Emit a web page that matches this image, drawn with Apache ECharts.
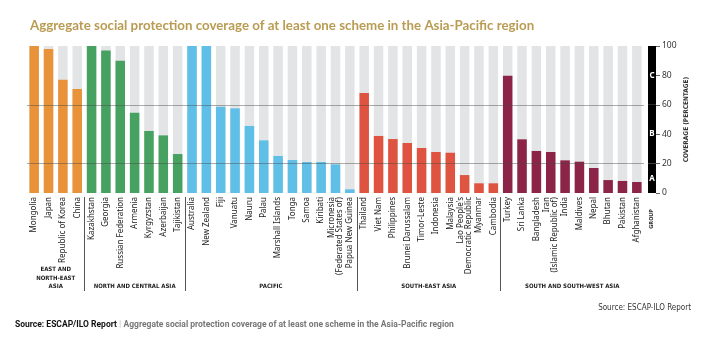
<!DOCTYPE html>
<html>
<head>
<meta charset="utf-8">
<script src="https://cdn.jsdelivr.net/npm/echarts@6/dist/echarts.min.js"></script>
<style>html,body{margin:0;padding:0;background:#fff}#c{width:704px;height:343px}</style>
</head>
<body>
<div id="c"></div>
<script>
// ---- data ----
const countries = [
  'Mongolia','Japan','Republic of Korea','China',
  'Kazakhstan','Georgia','Russian Federation','Armenia','Kyrgyzstan','Azerbaijan','Tajikistan',
  'Australia','New Zealand','Fiji','Vanuatu','Nauru','Palau','Marshall Islands','Tonga','Samoa','Kiribati','Micronesia\n(Federated States of)','Papua New Guinea',
  'Thailand','Viet Nam','Philippines','Brunei Darussalam','Timor-Leste','Indonesia','Malaysia',"Lao People's\nDemocratic Republic",'Myanmar','Cambodia',
  'Turkey','Sri Lanka','Bangladesh','Iran\n(Islamic Republic of)','India','Maldives','Nepal','Bhutan','Pakistan','Afghanistan'
];
const coverage = [
  100, 98, 77, 70.7,
  100, 97, 90, 54.6, 42.2, 39.2, 26.5,
  100, 100, 58.7, 57.6, 45.6, 35.8, 25.2, 22.4, 21.1, 21.1, 19.5, 2.5,
  68, 38.8, 36.7, 34, 30.6, 27.9, 27.4, 12.2, 6.6, 6.6,
  79.8, 36.5, 28.6, 27.9, 22.2, 21.3, 17, 8.8, 8.2, 7.5
];
const groupNames = ['EAST AND\nNORTH-EAST\nASIA', 'NORTH AND CENTRAL ASIA', 'PACIFIC', 'SOUTH-EAST ASIA', 'SOUTH AND SOUTH-WEST ASIA'];
const groupSizes = [4, 7, 12, 10, 10];
const groupColors = ['#E8923A', '#47A160', '#5FBFE6', '#DE5441', '#8C2447'];
const gradeNames = ['A', 'B', 'C'];
const gradeSpans = [20, 40, 40];
const bandLines = [20, 60];

// ---- derived ----
const groupOf = [];
groupSizes.forEach((n, g) => { for (let k = 0; k < n; k++) groupOf.push(g); });
const boundaries = [];
const centers = [];
let acc = 0;
groupSizes.forEach((n, g) => {
  centers.push(acc + (n - 1) / 2);
  acc += n;
  if (g < groupSizes.length - 1) boundaries.push(acc - 0.5);
});

const barData = coverage.map((v, i) => ({ value: v, itemStyle: { color: groupColors[groupOf[i]] } }));
const COND = '"DejaVu Sans Condensed", "DejaVu Sans", sans-serif';

const chart = echarts.init(document.getElementById('c'), null, { renderer: 'canvas' });
chart.setOption({
  animation: false,
  backgroundColor: '#fff',
  title: [
    {
      text: 'Aggregate social protection coverage of at least one scheme in the Asia-Pacific region',
      left: 25, top: 14,
      textStyle: { fontFamily: 'Lato', fontWeight: 'bold', fontSize: 13.3, color: '#B99C52' }
    },
    {
      text: 'Source: ESCAP-ILO Report',
      right: 8, top: 299,
      textStyle: { fontFamily: COND, fontWeight: 'normal', fontSize: 8, color: '#333' }
    },
    {
      text: '{b|Source: ESCAP/ILO Report}{s| |}{g| Aggregate social protection coverage of at least one scheme in the Asia-Pacific region}',
      left: 10, top: 315,
      textStyle: {
        rich: {
          b: { fontFamily: 'Roboto', fontWeight: 'bold', fontSize: 8.5, color: '#111' },
          s: { fontFamily: 'Roboto', fontSize: 9, color: '#ccc' },
          g: { fontFamily: 'Roboto', fontSize: 8.5, color: '#777' }
        }
      }
    }
  ],
  grid: [
    { left: 27, right: 60, top: 46, bottom: 150 },
    { left: 648, width: 8, top: 46, bottom: 150 }
  ],
  xAxis: [
    {
      type: 'category', gridIndex: 0, data: countries,
      axisLine: { show: false }, axisTick: { show: false },
      axisLabel: { interval: 0, rotate: 90, margin: 4, fontFamily: 'Noto Sans', fontSize: 8, lineHeight: 8, color: '#222' }
    },
    {
      type: 'value', gridIndex: 0, position: 'bottom', offset: 4,
      min: -0.5, max: countries.length - 0.5,
      axisLine: { show: false }, splitLine: { show: false },
      axisTick: { show: true, customValues: boundaries, length: 94, inside: false, lineStyle: { color: '#555', width: 1 } },
      axisLabel: {
        show: true, customValues: centers, margin: 94, verticalAlign: 'bottom', align: 'center',
        fontFamily: COND, fontWeight: 'bold', fontSize: 6, lineHeight: 8.5, color: '#222',
        formatter: v => { const k = centers.findIndex(c => Math.abs(c - v) < 1e-6); return k >= 0 ? groupNames[k] : ''; }
      }
    },
    {
      type: 'category', gridIndex: 1, data: ['GROUP'],
      axisLine: { show: false }, axisTick: { show: false },
      axisLabel: { rotate: 90, margin: 16, fontFamily: COND, fontWeight: 'bold', fontSize: 5.5, color: '#333' }
    }
  ],
  yAxis: [
    { type: 'value', gridIndex: 0, min: 0, max: 100, show: false },
    {
      type: 'value', gridIndex: 1, position: 'right', min: 0, max: 100, interval: 20,
      axisLine: { show: false }, splitLine: { show: false },
      axisTick: { show: true, length: 4, lineStyle: { color: '#666' } },
      axisLabel: { margin: 6, fontFamily: 'Noto Sans', fontSize: 8.5, color: '#333' },
      name: 'COVERAGE (PERCENTAGE)', nameLocation: 'middle', nameRotate: 90, nameGap: 27,
      nameTextStyle: { fontFamily: COND, fontWeight: 'bold', fontSize: 6.5, color: '#333' }
    }
  ],
  series: [
    {
      type: 'bar', xAxisIndex: 0, yAxisIndex: 0, data: barData, barWidth: 9.5,
      showBackground: true, backgroundStyle: { color: '#E3E4E6' },
      markLine: {
        silent: true, symbol: 'none', label: { show: false }, z: 10,
        lineStyle: { color: 'rgba(70,70,70,0.45)', type: 'solid', width: 1 },
        data: bandLines.map(v => ({ yAxis: v }))
      }
    }
  ].concat(gradeNames.map((n, k) => ({
    type: 'bar', name: n, xAxisIndex: 2, yAxisIndex: 1, stack: 'grade', barWidth: '100%',
    data: [gradeSpans[k]], itemStyle: { color: '#000' },
    label: { show: true, position: 'inside', formatter: n, color: '#fff', fontWeight: 'bold', fontSize: 8, fontFamily: 'Noto Sans' }
  })))
});
</script>
</body>
</html>
